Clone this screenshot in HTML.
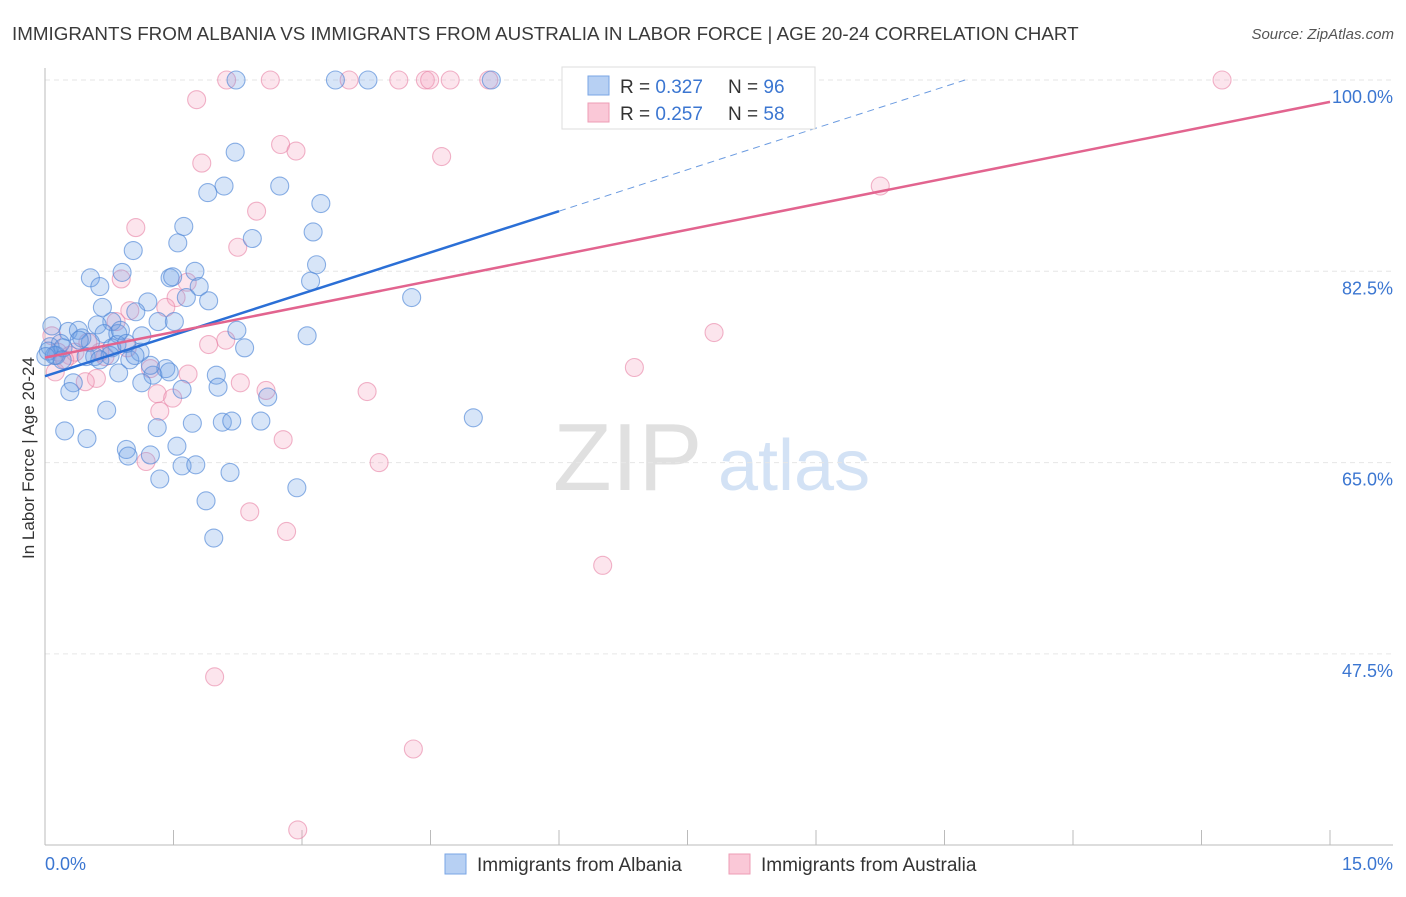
<!DOCTYPE html>
<html><head><meta charset="utf-8"><style>
body{margin:0;background:#fff;font-family:"Liberation Sans",sans-serif}
svg text{font-family:"Liberation Sans",sans-serif}
</style></head><body>
<svg id="chart" width="1406" height="892" viewBox="0 0 1406 892" xmlns="http://www.w3.org/2000/svg">
<text x="12" y="40" font-size="18.8" fill="#3a3a3a">IMMIGRANTS FROM ALBANIA VS IMMIGRANTS FROM AUSTRALIA IN LABOR FORCE | AGE 20-24 CORRELATION CHART</text>
<text x="1394" y="39" font-size="15" fill="#555" text-anchor="end" font-style="italic">Source: ZipAtlas.com</text>
<g>
<text x="553" y="490" font-size="96" fill="#e0e0e0" font-family="Liberation Serif,serif">ZIP</text>
<text x="718" y="490" font-size="72" fill="#d3e2f5">atlas</text>
</g>
<g id="grid"></g>
<g id="axes"></g>
<g id="pink"></g>
<g id="blue"></g>
<g id="lines"></g>
<text transform="translate(34,458) rotate(-90)" font-size="17" fill="#333" text-anchor="middle">In Labor Force | Age 20-24</text>
<g>
<rect x="562" y="67" width="253" height="62" fill="#fff" stroke="#ddd"/>
<rect x="588" y="76" width="21" height="19" fill="#b7d0f3" stroke="#7aa6e6"/>
<rect x="588" y="103" width="21" height="19" fill="#fac8d7" stroke="#ee9db6"/>
<text x="620" y="93" font-size="19" fill="#333">R = <tspan fill="#3b76d1">0.327</tspan></text>
<text x="728" y="93" font-size="19" fill="#333">N = <tspan fill="#3b76d1">96</tspan></text>
<text x="620" y="120" font-size="19" fill="#333">R = <tspan fill="#3b76d1">0.257</tspan></text>
<text x="728" y="120" font-size="19" fill="#333">N = <tspan fill="#3b76d1">58</tspan></text>
</g>
<g>
<rect x="445" y="854" width="21" height="20" fill="#b7d0f3" stroke="#7aa6e6"/>
<text x="477" y="871" font-size="19" fill="#333">Immigrants from Albania</text>
<rect x="729" y="854" width="21" height="20" fill="#fac8d7" stroke="#ee9db6"/>
<text x="761" y="871" font-size="19" fill="#333">Immigrants from Australia</text>
</g>
</svg>
<script>
const yTicks=[100,82.5,65,47.5];
const yTickLabels=["100.0%","82.5%","65.0%","47.5%"];
const xTicks=[0,1.5,3,4.5,6,7.5,9,10.5,12,13.5,15];
const xEndLabels=["0.0%","15.0%"];
const albaniaX=[2.23,3.39,3.77,5.21,2.22,2.09,1.90,2.74,3.22,1.62,1.55,1.03,2.42,3.13,0.53,0.90,1.46,1.75,0.64,1.49,1.80,1.20,1.91,0.67,3.17,3.10,4.28,1.65,1.06,1.32,1.51,0.78,0.61,0.08,0.27,0.39,2.24,3.06,0.69,0.85,0.43,0.53,1.13,0.84,0.18,0.06,2.33,1.11,0.48,0.78,0.13,0.58,0.99,1.41,2.00,1.26,0.86,0.33,1.13,1.60,2.02,0.29,2.60,0.72,5.00,2.07,2.18,2.52,1.72,0.23,0.49,1.54,1.31,0.95,0.97,1.23,1.60,1.76,2.16,1.34,2.94,1.88,1.97,0.11,0.04,0.21,0.76,0.64,1.23,0.01,0.88,0.20,1.05,0.40,0.95,1.45];
const albaniaY=[100,100,100,100,93.4,90.3,89.7,90.3,88.7,86.6,85.1,84.4,85.5,86.1,81.9,82.4,81.9,82.5,81.1,82.0,81.1,79.7,79.8,79.2,83.1,81.6,80.1,80.1,78.8,77.9,77.9,77.9,77.6,77.5,77.0,77.1,77.1,76.6,76.8,76.8,76.4,76.0,76.6,75.8,75.9,75.6,75.5,75.1,74.7,75.5,74.8,74.7,74.4,73.6,73.0,73.0,73.2,72.3,72.3,71.7,71.9,71.5,71.0,69.8,69.1,68.7,68.8,68.8,68.6,67.9,67.2,66.5,68.2,66.2,65.6,65.7,64.7,64.8,64.1,63.5,62.7,61.5,58.1,74.8,75.2,75.5,74.8,74.4,73.9,74.7,77.1,74.4,74.8,76.2,75.9,73.3];
const australiaX=[2.12,2.63,3.55,4.13,4.44,4.49,4.73,5.18,6.17,13.74,1.77,2.75,2.93,1.83,4.63,9.75,2.47,1.06,2.25,1.66,0.89,1.53,1.41,0.99,0.83,2.11,1.91,7.81,0.08,0.15,0.29,0.35,0.70,1.23,1.67,0.60,0.47,2.28,2.58,1.31,3.76,1.49,6.88,1.34,2.78,1.18,3.90,2.39,2.82,6.51,1.98,4.30,2.95,0.12,0.23,0.96,0.64,0.50];
const australiaY=[100,100,100,100,100,100,100,100,100,100,98.2,94.1,93.5,92.4,93.0,90.3,88.0,86.5,84.7,81.5,81.8,80.1,79.2,78.9,77.9,76.2,75.8,76.9,76.6,75.1,74.8,75.1,74.7,73.6,73.1,72.7,72.4,72.3,71.6,71.3,71.5,70.9,73.7,69.7,67.1,65.1,65.0,60.5,58.7,55.6,45.4,38.8,31.4,73.3,74.4,75.5,75.1,76.0];
const albaniaTrend=[[0,72.9],[6.0,88.0]];
const albaniaTrendExt=[[6.0,88.0],[10.74,100]];
const australiaTrend=[[0,74.6],[15,98.0]];

const NS="http://www.w3.org/2000/svg";
const X0=45,X1=1330,Ytop=80,Ybot=845;
const sx=v=>X0+(v/15)*(X1-X0);
const sy=v=>Ytop+(100-v)*(191.3/17.5);
function mk(tag,attrs,parent){const e=document.createElementNS(NS,tag);for(const k in attrs)e.setAttribute(k,attrs[k]);parent.appendChild(e);return e;}
const grid=document.getElementById('grid'),axes=document.getElementById('axes');
yTicks.forEach((t,i)=>{
 const l=mk('line',{x1:X0,x2:1393,y1:sy(t),y2:sy(t),stroke:'#e6e6e6','stroke-dasharray':'5,4'},grid);
 
 
 const tx=mk('text',{x:1393,y:sy(t)+23,'font-size':18,fill:'#3b76d1','text-anchor':'end'},axes);
 tx.textContent=yTickLabels[i];
 
 
});
const ya=mk('line',{x1:X0,x2:X0,y1:68,y2:Ybot,stroke:'#bbb'},axes);


const xa=mk('line',{x1:X0,x2:1393,y1:Ybot,y2:Ybot,stroke:'#bbb'},axes);


xTicks.forEach(t=>{
 const l=mk('line',{x1:sx(t),x2:sx(t),y1:830,y2:Ybot,stroke:'#bbb'},axes);
 
 
});
const xl0=mk('text',{x:45,y:870,'font-size':18,fill:'#3b76d1'},axes);xl0.textContent=xEndLabels[0];


const xl1=mk('text',{x:1393,y:870,'font-size':18,fill:'#3b76d1','text-anchor':'end'},axes);xl1.textContent=xEndLabels[1];


const pg=document.getElementById('pink'),bg=document.getElementById('blue');
australiaX.forEach((v,i)=>{
 const c=mk('circle',{cx:sx(v),cy:sy(australiaY[i]),r:9,fill:'rgba(244,160,190,0.28)',stroke:'rgba(232,130,165,0.6)','stroke-width':1.1},pg);
 
 
});
albaniaX.forEach((v,i)=>{
 const c=mk('circle',{cx:sx(v),cy:sy(albaniaY[i]),r:9,fill:'rgba(110,160,230,0.28)',stroke:'rgba(80,135,215,0.65)','stroke-width':1.1},bg);
 
 
});
const lg=document.getElementById('lines');
const bl=mk('line',{x1:sx(albaniaTrend[0][0]),y1:sy(albaniaTrend[0][1]),x2:sx(albaniaTrend[1][0]),y2:sy(albaniaTrend[1][1]),stroke:'#2b6fd6','stroke-width':2.5},lg);


const bd=mk('line',{x1:sx(albaniaTrendExt[0][0]),y1:sy(albaniaTrendExt[0][1]),x2:sx(albaniaTrendExt[1][0]),y2:sy(albaniaTrendExt[1][1]),stroke:'#6b9be0','stroke-width':1,'stroke-dasharray':'7,5'},lg);


const pl=mk('line',{x1:sx(australiaTrend[0][0]),y1:sy(australiaTrend[0][1]),x2:sx(australiaTrend[1][0]),y2:sy(australiaTrend[1][1]),stroke:'#e2648f','stroke-width':2.5},lg);


</script>
</body></html>
